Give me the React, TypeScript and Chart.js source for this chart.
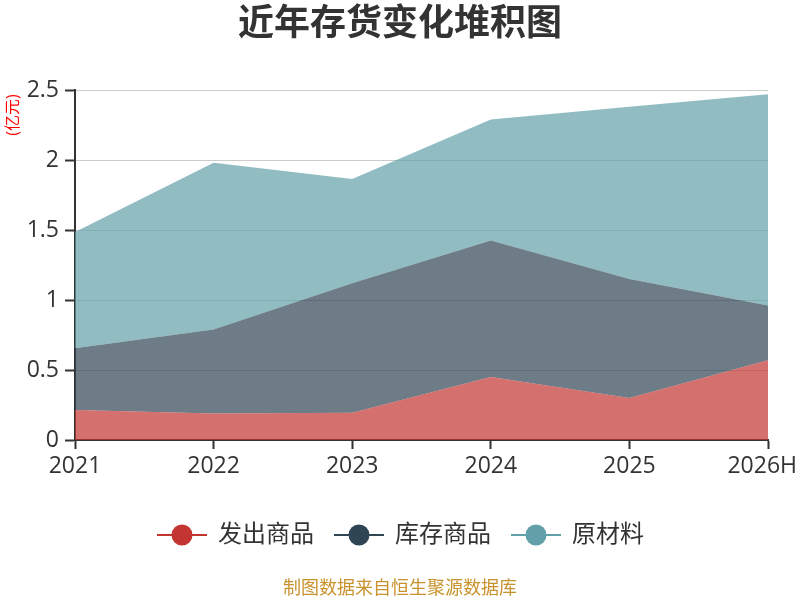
import { useEffect, useRef } from "react";
import { Chart, registerables } from "chart.js";

Chart.register(...registerables);

const years = ["2021", "2022", "2023", "2024", "2025", "2026H"];
const shipped = [0.215, 0.19, 0.195, 0.45, 0.3, 0.57];
const stock = [0.44, 0.6, 0.925, 0.975, 0.85, 0.39];
const material = [0.83, 1.19, 0.745, 0.865, 1.23, 1.51];
const seriesNames = ["发出商品", "库存商品", "原材料"];
const seriesColors = ["#c23531", "#2f4554", "#61a0a8"];
const fillColors = ["rgba(194,53,49,0.7)", "rgba(47,69,84,0.7)", "rgba(97,160,168,0.7)"];

const FONT = '"Open Sans", "Noto Sans CJK SC", sans-serif';

// title, unit, x labels, legend and source line drawn straight onto the canvas
const extras = {
  id: "extras",
  afterDraw(chart: any) {
    const ctx = chart.ctx;
    ctx.save();
    ctx.fillStyle = "#333";
    ctx.font = `bold 36px ${FONT}`;
    ctx.textAlign = "center";
    ctx.textBaseline = "middle";
    ctx.fillText("近年存货变化堆积图", 400, 25);

    // category labels, the last one kept inside the canvas
    const xs = chart.scales.x;
    ctx.font = `23px ${FONT}`;
    years.forEach((label, i) => {
      const half = ctx.measureText(label).width / 2;
      const px = Math.min(xs.getPixelForValue(i), chart.width - half - 3);
      ctx.fillText(label, px, xs.top + 26);
    });

    ctx.save();
    ctx.translate(13, 115);
    ctx.rotate(-Math.PI / 2);
    ctx.fillStyle = "#ff0000";
    ctx.font = `16px ${FONT}`;
    ctx.fillText("(亿元)", 0, 0);
    ctx.restore();

    const starts = [157, 334, 511];
    seriesNames.forEach((name, i) => {
      const x = starts[i];
      const y = 535;
      ctx.strokeStyle = seriesColors[i];
      ctx.lineWidth = 2;
      ctx.beginPath();
      ctx.moveTo(x, y);
      ctx.lineTo(x + 50, y);
      ctx.stroke();
      ctx.fillStyle = seriesColors[i];
      ctx.beginPath();
      ctx.arc(x + 25, y, 10.5, 0, Math.PI * 2);
      ctx.fill();
      ctx.fillStyle = "#333";
      ctx.font = `24px ${FONT}`;
      ctx.textAlign = "left";
      ctx.fillText(name, x + 61, y);
    });

    ctx.fillStyle = "#c8922c";
    ctx.font = `18px ${FONT}`;
    ctx.textAlign = "center";
    ctx.fillText("制图数据来自恒生聚源数据库", 400, 589);
    ctx.restore();
  },
};

export default function App() {
  const canvasRef = useRef<HTMLCanvasElement>(null);

  useEffect(() => {
    document.body.style.margin = "0";
    if (!canvasRef.current) return;
    const chart = new Chart(canvasRef.current, {
      type: "line",
      data: {
        labels: years,
        datasets: [shipped, stock, material].map((values, i) => ({
          label: seriesNames[i],
          data: values,
          borderColor: "rgba(0,0,0,0)",
          borderWidth: 1,
          backgroundColor: fillColors[i],
          pointRadius: 0,
          tension: 0,
          fill: i === 0 ? "origin" : "-1",
        })),
      },
      options: {
        responsive: true,
        maintainAspectRatio: false,
        animation: false,
        layout: { padding: { top: 90, left: 15, right: 32, bottom: 120 } },
        plugins: {
          legend: { display: false },
          title: { display: false },
          tooltip: { enabled: false },
        },
        scales: {
          x: {
            offset: false,
            grid: {
              drawOnChartArea: false,
              drawTicks: true,
              tickLength: 9,
              tickColor: "#333",
              tickWidth: 2,
            },
            border: { color: "#333", width: 2 },
            ticks: { color: "rgba(0,0,0,0)", font: { family: FONT, size: 23 }, padding: 2, maxRotation: 0 },
            afterFit: (scale: any) => {
              scale.height = 40;
              scale.paddingLeft = 0;
              scale.paddingRight = 0;
            },
          },
          y: {
            stacked: true,
            min: 0,
            max: 2.5,
            grid: {
              color: "#ccc",
              lineWidth: 1,
              tickLength: 10,
              tickColor: "#333",
              tickWidth: 2,
            },
            border: { color: "#333", width: 2 },
            ticks: {
              stepSize: 0.5,
              color: "#333",
              font: { family: FONT, size: 23 },
              padding: 6,
              callback: (v: any) => String(Number(v)),
            },
            afterFit: (scale: any) => {
              scale.width = 60;
              scale.paddingTop = 0;
              scale.paddingBottom = 0;
            },
          },
        },
      },
      plugins: [extras],
    });
    return () => chart.destroy();
  }, []);

  return (
    <div style={{ width: 800, height: 600, position: "relative" }}>
      <canvas ref={canvasRef} />
    </div>
  );
}
